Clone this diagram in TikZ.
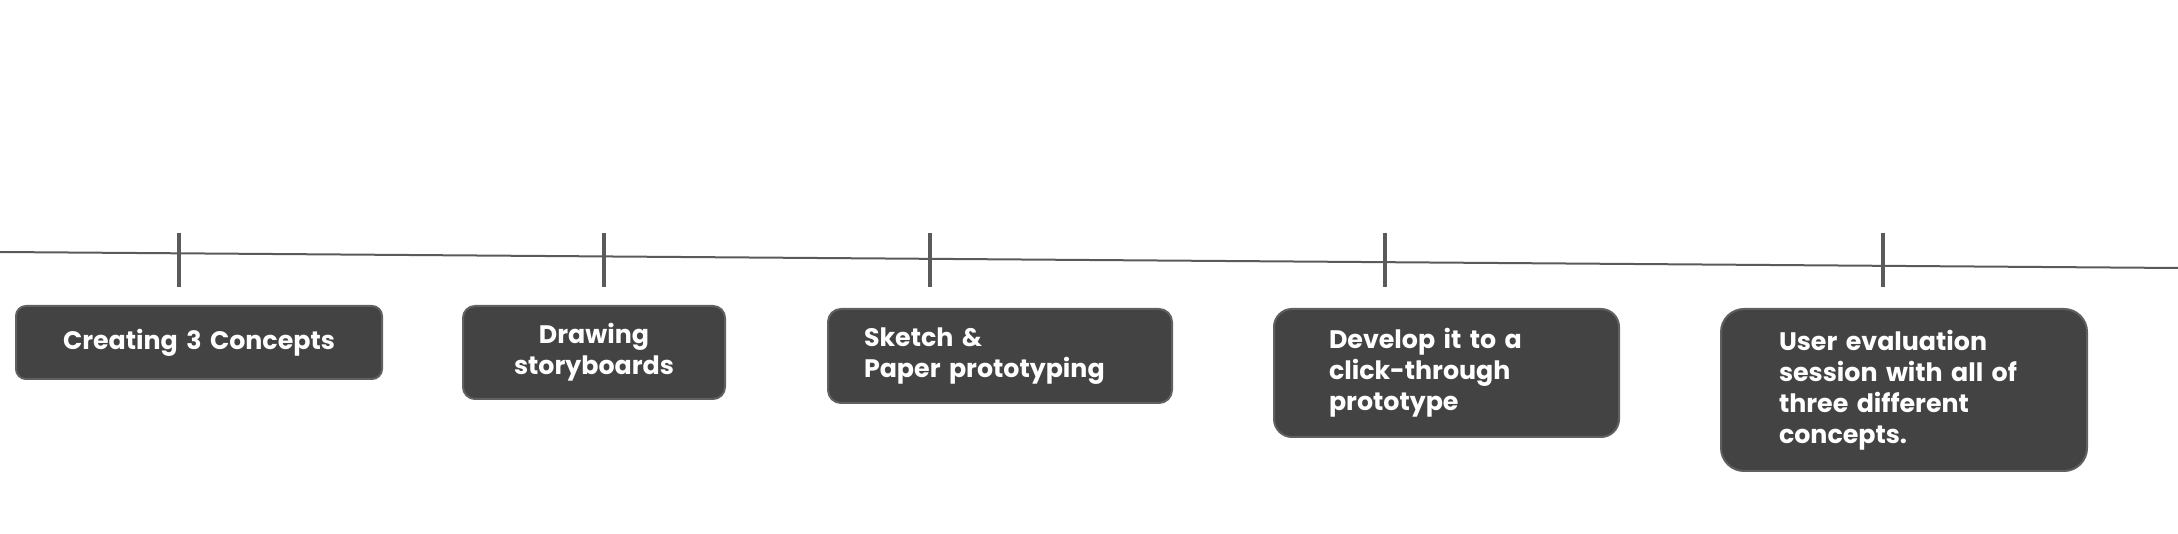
\documentclass[tikz,border=0pt]{standalone}
\usepackage{fontspec}
\setmainfont{Poppins}
\usetikzlibrary{positioning}
\definecolor{boxFill}{HTML}{434343}
\definecolor{boxDraw}{HTML}{606060}
\definecolor{lineDraw}{HTML}{5A5A5A}
\tikzset{
  font=\fontsize{7.2}{8.8}\selectfont\bfseries,
  stage/.style ={draw=boxDraw, fill=boxFill, text=white, line width=0.2mm, anchor=north west, inner ysep=0pt},
  tickmark/.style={draw=lineDraw, line width=0.4mm},
  axis/.style  ={draw=lineDraw, line width=0.2mm},
}
\begin{document}
\begin{tikzpicture}[x=0.1mm, y=-0.1mm]
  \useasboundingbox (0,0) rectangle (2178,534);

  % time line
  \coordinate (tl0) at (0,252);
  \coordinate (tl1) at (2178,268);
  \draw[axis] (tl0) -- (tl1);

  % tick marks
  \foreach \n/\x in {a/179, b/604, c/930, d/1385, e/1883} {
    \coordinate (\n top) at (\x,233);
    \coordinate (\n bot) at (\x,287);
    \draw[tickmark] (\n top) -- (\n bot);
  }

  % stages
  \node[stage, rounded corners=1mm, minimum width=36.6mm, minimum height=7.3mm,
        text width=32.6mm, inner xsep=2mm, align=center] (concepts) at (15,305) {Creating 3 Concepts};
  \node[stage, rounded corners=1.2mm, minimum width=26.2mm, minimum height=9.3mm,
        text width=22.2mm, inner xsep=2mm, align=center] (story) at (462,305) {Drawing\\storyboards};
  \node[stage, rounded corners=1.3mm, minimum width=34.4mm, minimum height=9.4mm,
        text width=27.2mm, inner xsep=3.6mm, align=left] (paper) at (827,308) {Sketch \&\\Paper prototyping};
  \node[stage, rounded corners=1.8mm, minimum width=34.5mm, minimum height=12.8mm,
        text width=23.5mm, inner xsep=5.5mm, align=left] (click) at (1273,308) {Develop it to a\\click-through\\prototype};
  \node[stage, rounded corners=2.3mm, minimum width=36.6mm, minimum height=16.2mm,
        text width=25mm, inner xsep=5.8mm, align=left] (eval) at (1720,308) {User evaluation\\session with all of\\three different\\concepts.};
\end{tikzpicture}
\end{document}
